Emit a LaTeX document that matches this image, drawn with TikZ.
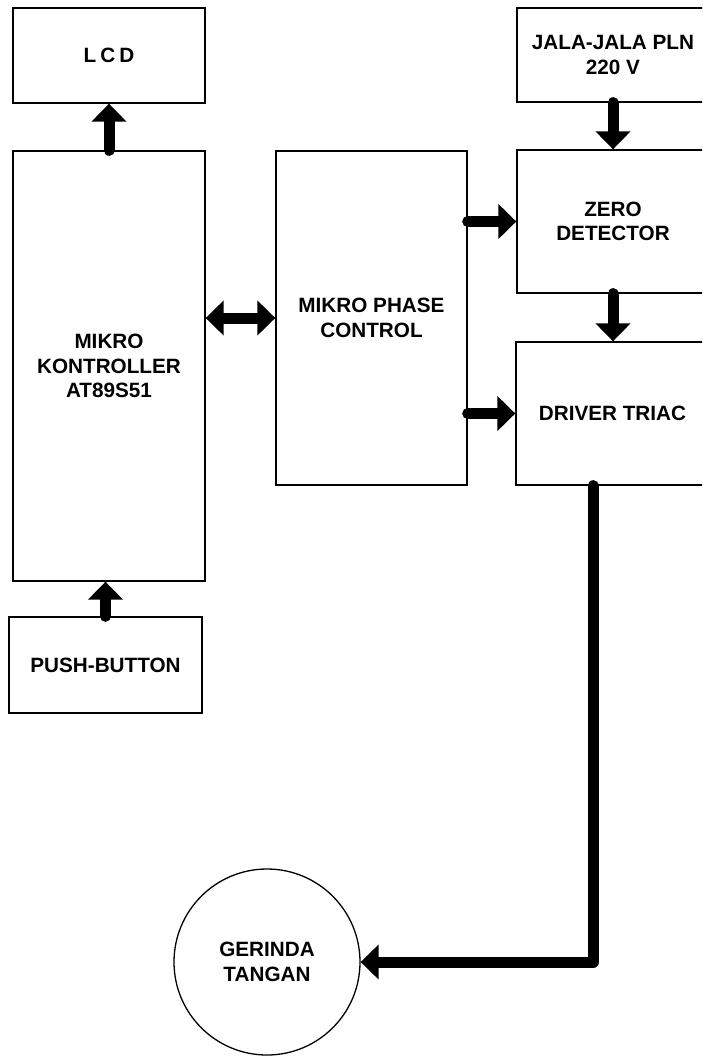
\documentclass[tikz,border=0pt]{standalone}
\usepackage{fontspec}
\setmainfont{Liberation Sans}
\usetikzlibrary{arrows.meta}
\begin{document}
\begin{tikzpicture}[x=1pt,y=-1pt,
  box/.style={draw, line width=1.3pt, inner sep=0pt, align=center,
    font=\fontsize{20.7}{24.5}\selectfont\bfseries},
  tip/.tip={Triangle[width=34pt,length=18pt]},
  conn/.style={line width=11pt, line cap=round, line join=round, -tip},
  both/.style={line width=11pt, tip-tip},
]
\useasboundingbox (0,0) rectangle (702,1058);
\clip (0,0) rectangle (702,1058);
\node[box, minimum width=192, minimum height=95] (lcd) at (109,55.5)
  {L\hspace{4pt}C\hspace{4pt}D};
\node[box, minimum width=192, minimum height=430] (mikro) at (109,366)
  {MIKRO\\KONTROLLER\\AT89S51};
\node[box, minimum width=193, minimum height=96] (pb) at (105.5,665)
  {PUSH-BUTTON};
\node[box, minimum width=191, minimum height=334] (phase) at (371.5,318)
  {MIKRO PHASE\\CONTROL};
\node[box, minimum width=192, minimum height=94] (jala) at (613,55)
  {JALA-JALA PLN\\220 V};
\node[box, minimum width=192, minimum height=143] (zero) at (613,221.5)
  {ZERO\\DETECTOR};
\node[box, minimum width=193, minimum height=143] (driver) at (612.5,413.5)
  {DRIVER TRIAC};
\node[box, circle, minimum size=186] (gerinda) at (267,962)
  {GERINDA\\TANGAN};

\draw[conn] (mikro.north) -- (lcd.south);
\draw[conn] (pb.north) -- (pb.north |- mikro.south);
\draw[both] (mikro.east |- phase.west) -- (phase.west);
\draw[conn] (jala.south) -- (zero.north);
\draw[conn] (zero.south) -- (zero.south |- driver.north);
\draw[conn] (phase.east |- zero.west) -- (zero.west);
\draw[conn] (phase.east |- driver.west) -- (driver.west);
\coordinate (bend) at (593,962);
\draw[conn] (bend |- driver.south) -- (bend) -- (gerinda.east);
\end{tikzpicture}
\end{document}
